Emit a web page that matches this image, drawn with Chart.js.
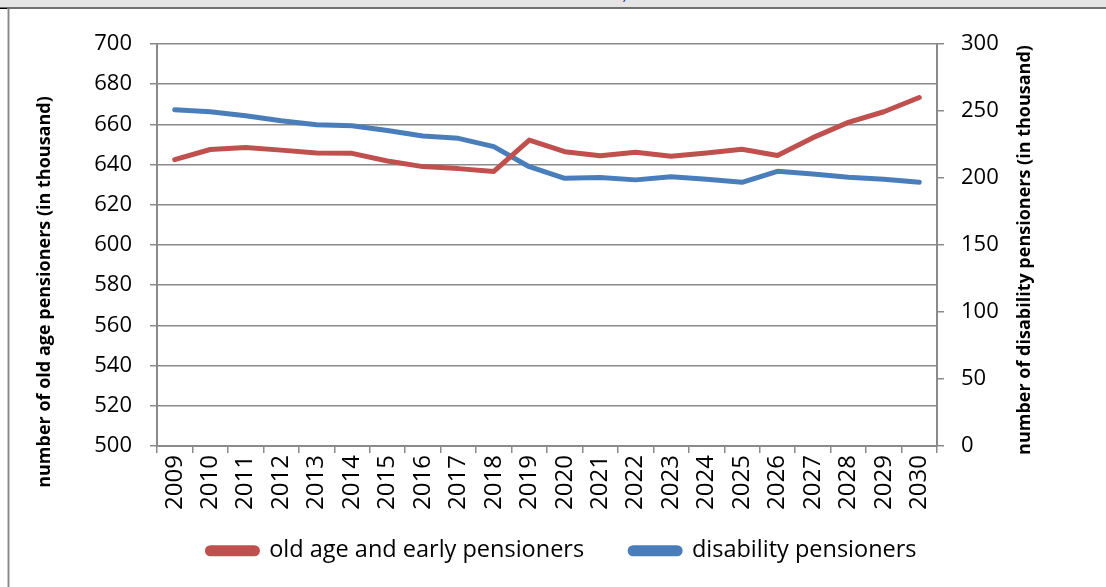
<!DOCTYPE html>
<html>
<head>
<meta charset="utf-8">
<script src="https://cdn.jsdelivr.net/npm/chart.js@4"></script>
<style>
  html, body { margin: 0; padding: 0; background: #fff; }
  body { width: 1106px; height: 587px; position: relative; overflow: hidden; }
  #topbar { position: absolute; left: 0; top: 0; width: 1106px; height: 7px; background: #e4e4e4; border-bottom: 2px solid #707070; }
  #topbar span { position: absolute; left: 622px; top: -11px; font: 13px "DejaVu Sans", sans-serif; color: #2020a0; }
  #leftedge { position: absolute; left: 7px; top: 9px; width: 1px; height: 578px; background: #888; border-left: 1px solid #c8c8c8; border-right: 1px solid #c8c8c8; }
  #corner { position: absolute; left: 0; top: 8px; width: 7px; height: 1px; background: #000; }
  #chartBox { position: absolute; left: 0; top: 0; }
</style>
</head>
<body>
<div id="topbar"><span>)</span></div>
<div id="corner"></div>
<div id="leftedge"></div>
<canvas id="chartBox" width="1106" height="587"></canvas>
<script>
// pensioner numbers, 2009-2030 (thousands)
const years = ["2009", "2010", "2011", "2012", "2013", "2014", "2015", "2016", "2017", "2018", "2019",
    "2020", "2021", "2022", "2023", "2024", "2025", "2026", "2027", "2028", "2029", "2030"];

const oldAge = [642.5, 647.5, 648.5, 647.2, 645.8, 645.6, 641.8, 639, 638, 636.6, 652.2,
    646.4, 644.4, 646.1, 644.1, 645.8, 647.6, 644.5, 653.4, 661, 666.3, 673.4];

const disability = [251, 249.4, 246.4, 242.8, 239.8, 239, 235.5, 231.4, 229.6, 223.4, 208.4,
    199.8, 200.4, 198.6, 201, 199, 196.8, 205, 203, 200.6, 199, 196.8];

const leftTitle = "number of old age pensioners (in thousand)";
const rightTitle = "number of disability pensioners (in thousand)";

const FONT = "'Open Sans'";
const GRID = "#8a8a8a";

// axis titles drawn by hand so they can sit where we want them
function drawVertical(ctx, text, x, y) {
    ctx.save();
    ctx.font = "bold 18px " + FONT;
    ctx.fillStyle = "#000";
    ctx.textAlign = "center";
    ctx.textBaseline = "middle";
    ctx.translate(x, y);
    ctx.rotate(-Math.PI / 2);
    ctx.fillText(text, 0, 0);
    ctx.restore();
}

const axisTitles = {
    id: "axisTitles",
    afterLayout(chart) {
        // pull the legend up under the year labels; its box must still hold the items
        const lg = chart.legend;
        lg.top = chart.chartArea.bottom + 47;
        lg.height = 100;
        lg.bottom = lg.top + lg.height;
    },
    afterDraw(chart) {
        drawVertical(chart.ctx, leftTitle, 45, 292);
        drawVertical(chart.ctx, rightTitle, 1025, 250);
    }
};

const chart = new Chart(document.getElementById("chartBox"), {
    type: "line",
    data: {
        labels: years,
        datasets: [
            {
                label: "old age and early pensioners",
                data: oldAge,
                yAxisID: "y",
                borderColor: "#C0504D",
                backgroundColor: "#C0504D",
                borderWidth: 5,
                borderCapStyle: "round",
                borderJoinStyle: "round",
                pointRadius: 0,
                tension: 0
            },
            {
                label: "disability pensioners",
                data: disability,
                yAxisID: "y2",
                borderColor: "#4A7EBB",
                backgroundColor: "#4A7EBB",
                borderWidth: 5,
                borderCapStyle: "round",
                borderJoinStyle: "round",
                pointRadius: 0,
                tension: 0
            }
        ]
    },
    options: {
        responsive: false,
        animation: false,
        layout: { padding: { top: 44, bottom: 26, left: 18, right: 0 } },
        plugins: {
            tooltip: { enabled: false },
            legend: {
                position: "bottom",
                maxHeight: 40,
                labels: {
                    color: "#000",
                    font: { family: FONT, size: 23.5 },
                    boxWidth: 50,
                    boxHeight: 6,
                    useBorderRadius: true,
                    borderRadius: 3,
                    padding: 46
                }
            }
        },
        scales: {
            x: {
                offset: true,
                grid: { offset: true, drawOnChartArea: false, color: GRID, tickLength: 7, lineWidth: 1.5 },
                border: { color: GRID, width: 2 },
                ticks: {
                    color: "#000",
                    font: { family: FONT, size: 24 },
                    minRotation: 90,
                    maxRotation: 90,
                    autoSkip: false,
                    padding: 2
                },
                afterFit(scale) { scale.height = 75; }
            },
            y: {
                position: "left",
                min: 500,
                max: 700,
                ticks: {
                    stepSize: 20,
                    color: "#000",
                    font: { family: FONT, size: 22 },
                    padding: 18
                },
                grid: { color: GRID, lineWidth: 1.5, tickLength: 7 },
                border: { color: GRID, width: 2 },
                afterFit(scale) { scale.width = 139; }
            },
            y2: {
                position: "right",
                min: 0,
                max: 300,
                ticks: {
                    stepSize: 50,
                    color: "#000",
                    font: { family: FONT, size: 22 },
                    padding: 17
                },
                grid: { drawOnChartArea: false, color: GRID, lineWidth: 1.5, tickLength: 7 },
                border: { color: GRID, width: 2 },
                afterFit(scale) { scale.width = 169; }
            }
        }
    },
    plugins: [axisTitles]
});
</script>
</body>
</html>
